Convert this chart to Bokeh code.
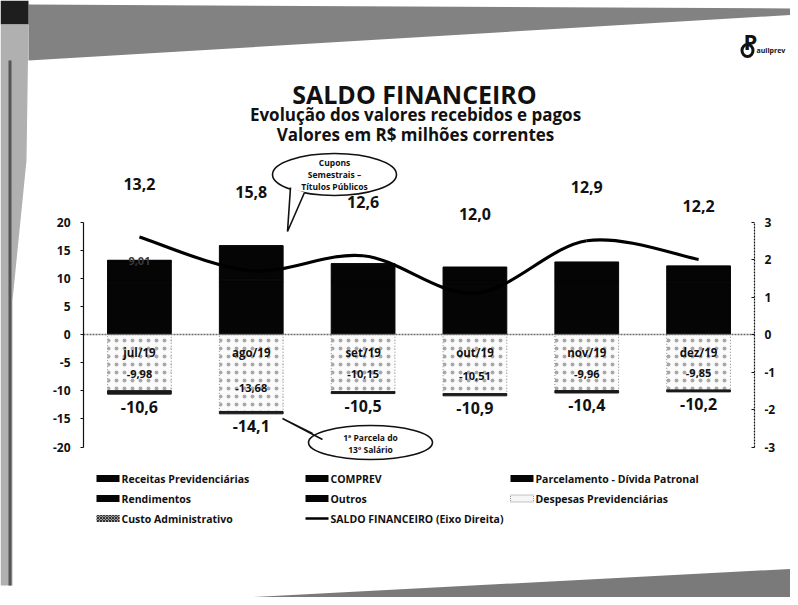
import numpy as np
from bokeh.plotting import figure
from bokeh.models import (Range1d, LinearAxis, FixedTicker, ColumnDataSource,
                          PrintfTickFormatter)
from bokeh.core.properties import value
from bokeh.embed import file_html
from bokeh.resources import INLINE

# ---------------- data ----------------
months = ["jul/19", "ago/19", "set/19", "out/19", "nov/19", "dez/19"]
receitas_prev = [9.01, 9.10, 9.05, 9.00, 9.08, 9.02]
comprev = [0.45, 0.44, 0.46, 0.45, 0.44, 0.45]
parcelamento = [0.30, 0.30, 0.30, 0.30, 0.30, 0.30]
rendimentos = [3.34, 5.86, 2.69, 2.15, 2.98, 2.33]
outros = [0.10, 0.10, 0.10, 0.10, 0.10, 0.10]
despesas_prev = [-9.98, -13.68, -10.15, -10.51, -9.96, -9.85]
custo_adm = [-0.62, -0.42, -0.35, -0.39, -0.44, -0.35]
total_recebido = [13.2, 15.8, 12.6, 12.0, 12.9, 12.2]
total_pago = [-10.6, -14.1, -10.5, -10.9, -10.4, -10.2]
saldo = [2.6, 1.7, 2.1, 1.1, 2.5, 2.0]
left_ticks = [-20, -15, -10, -5, 0, 5, 10, 15, 20]
right_ticks = [-3, -2, -1, 0, 1, 2, 3]

FONT = value("Open Sans")

# canvas-pixel helpers (axes at x 83 and 754, zero at y 334, 5.625 px per unit)
W, H = 790, 597
FL, FR, Z, PU = 83, 754, 334, 5.625


def dx(px):
    return -0.5 + (px - FL) * 6 / (FR - FL)


def dy(py):
    return (Z - py) / PU


RATIO = 3 / 20

p = figure(width=W, height=H, output_backend="svg", toolbar_location=None,
           x_range=Range1d(dx(0), dx(W)), y_range=Range1d(dy(H), dy(0)),
           min_border=0, min_border_left=0, min_border_right=0, min_border_top=0,
           min_border_bottom=0, y_axis_location=None)
p.extra_y_ranges = {"saldo": Range1d(dy(H) * RATIO, dy(0) * RATIO)}
p.xaxis.visible = False
p.xgrid.visible = False
p.ygrid.visible = False
p.outline_line_color = None
p.background_fill_color = "white"
p.border_fill_color = "white"

# ---------------- scanner shadow bands ----------------
bands = [
    ([28, 798, 798, 28], [4, 8, 14, 60], "#828282"),
    ([0, 28, 28, 0], [0, 0, 24, 24], "#1e1e1e"),
    ([0, 28, 26, 12, 12, 0], [24, 24, 160, 300, 585, 585], "#b0b0b0"),
    ([8, 11, 11, 8], [60, 60, 585, 585], "#555555"),
    ([90, 798, 798], [605, 568, 605], "#7a7a7a"),
]
p.patches(xs=[[dx(v) for v in b[0]] for b in bands],
          ys=[[dy(v) for v in b[1]] for b in bands],
          fill_color=[b[2] for b in bands], line_color=None)

# ---------------- bars ----------------
x = list(range(len(months)))
src = ColumnDataSource(dict(x=x, receitas=receitas_prev, comprev=comprev,
                            parcelamento=parcelamento, rendimentos=rendimentos,
                            outros=outros))
p.vbar_stack(["receitas", "comprev", "parcelamento", "rendimentos", "outros"],
             x="x", width=0.57, source=src, color="#050505", line_color="#050505")

desp = np.array(despesas_prev)
cust = np.array(custo_adm)
p.vbar(x=x, top=0, bottom=desp, width=0.57, fill_color="#fbfbfb",
       hatch_pattern=".", hatch_color="#a8a8a8", hatch_scale=8, hatch_weight=1,
       line_color="#8a8a8a", line_dash="1 2", line_width=1)
p.vbar(x=x, top=desp, bottom=desp + cust, width=0.57, fill_color="#1a1a1a",
       line_color="#1a1a1a")

p.segment(x0=[-0.5], y0=[0], x1=[5.5], y1=[0], line_color="#6a6a6a",
          line_width=1.5, line_dash="2 1")

# ---------------- saldo line (smooth) on right axis ----------------
P = np.column_stack([np.array(x, float), np.array(saldo)])
Pe = np.vstack([P[0], P, P[-1]])
c0 = P[:-1] + (Pe[2:-1] - Pe[:-3]) / 6
c1 = P[1:] - (Pe[3:] - Pe[1:-2]) / 6
p.bezier(x0=P[:-1, 0], y0=P[:-1, 1], x1=P[1:, 0], y1=P[1:, 1],
         cx0=c0[:, 0], cy0=c0[:, 1], cx1=c1[:, 0], cy1=c1[:, 1],
         line_color="black", line_width=3.2, y_range_name="saldo")

# ---------------- axes ----------------
ax_l = LinearAxis(ticker=FixedTicker(ticks=left_ticks), bounds=(-20, 20),
                  fixed_location=-0.5, formatter=PrintfTickFormatter(format="%d"))
ax_r = LinearAxis(y_range_name="saldo", ticker=FixedTicker(ticks=right_ticks),
                  bounds=(-3, 3), fixed_location=5.5,
                  formatter=PrintfTickFormatter(format="%d"))
p.add_layout(ax_l, "left")
p.add_layout(ax_r, "right")
for ax in (ax_l, ax_r):
    ax.axis_line_color = "#111111"
    ax.axis_line_width = 1.2
    ax.major_tick_line_color = "#111111"
    ax.minor_tick_line_color = None
    ax.major_label_text_font = "Open Sans"
    ax.major_label_text_font_style = "bold"
    ax.major_label_text_font_size = "12px"
    ax.major_label_text_color = "#111111"
    ax.major_label_standoff = 10
ax_l.major_tick_in = 0
ax_l.major_tick_out = 3
ax_r.major_tick_in = 3
ax_r.major_tick_out = 0
ax_r.axis_line_dash = "2 1"


def fmt(v, d):
    return f"{v:.{d}f}".replace(".", ",")


# ---------------- data labels ----------------
top_y = [max(t, s / RATIO) + 9.5 for t, s in zip(total_recebido, saldo)]
p.text(x=x, y=top_y, text=[fmt(v, 1) for v in total_recebido], text_font=FONT,
       text_font_style="bold", text_font_size="16px", text_align="center",
       text_baseline="middle", text_color="#111111")
p.text(x=x, y=[t - 2.2 for t in total_pago], text=[fmt(v, 1) for v in total_pago],
       text_font=FONT, text_font_style="bold", text_font_size="16px",
       text_align="center", text_baseline="middle", text_color="#111111")
p.text(x=x, y=[0.7 * v for v in despesas_prev], text=[fmt(v, 2) for v in despesas_prev],
       text_font=FONT, text_font_style="bold", text_font_size="11px",
       text_align="center", text_baseline="middle", text_color="#111111")
p.text(x=x, y=[-3.2] * len(x), text=months, text_font=FONT, text_font_style="bold",
       text_font_size="11.5px", text_align="center", text_baseline="middle",
       text_color="#111111")
p.text(x=[0], y=[receitas_prev[0] + 4.0], text=[fmt(receitas_prev[0], 2)], text_font=FONT,
       text_font_style="bold", text_font_size="11px", text_align="center",
       text_baseline="middle", text_color="#3a3a3a")

# ---------------- titles ----------------
p.text(x=[dx(414)], y=[dy(93)], text=["SALDO FINANCEIRO"], text_font=FONT,
       text_font_style="bold", text_font_size="25px", text_align="center",
       text_baseline="middle", text_color="#111111")
p.text(x=[dx(415), dx(415)], y=[dy(114), dy(134)],
       text=["Evolução dos valores recebidos e pagos", "Valores em R$ milhões correntes"],
       text_font=FONT, text_font_style="bold", text_font_size="17px",
       text_align="center", text_baseline="middle", text_color="#111111")


# ---------------- callouts ----------------
def callout(cx, cy, w, h, base, tip, lines, line_y, fs):
    p.ellipse(x=[dx(cx)], y=[dy(cy)], width=w, height=h, width_units="screen",
              height_units="screen", fill_color="white", line_color="#111111",
              line_width=1.6)
    (bx0, by0), (bx1, by1) = base
    tx, ty = tip
    p.patch(x=[dx(bx0), dx(tx), dx(bx1)], y=[dy(by0), dy(ty), dy(by1)],
            fill_color="white", line_color=None)
    p.multi_line(xs=[[dx(bx0), dx(tx), dx(bx1)]], ys=[[dy(by0), dy(ty), dy(by1)]],
                 line_color="#111111", line_width=1.6)
    p.text(x=[dx(cx)] * len(lines), y=[dy(v) for v in line_y], text=lines,
           text_font=FONT, text_font_style="bold", text_font_size=fs,
           text_align="center", text_baseline="middle", text_color="#111111")


callout(334, 174, 124, 42, ((290, 187), (304, 192)), (287, 231),
        ["Cupons", "Semestrais –", "Títulos Públicos"], [162, 174, 186], "8.5px")
callout(370, 442, 124, 34, ((312, 433), (322, 439)), (282, 418),
        ["1ª Parcela do", "13º Salário"], [437, 449], "8.5px")

# ---------------- legend ----------------
legend_items = [
    ("Receitas Previdenciárias", 96, 478, "bar"),
    ("COMPREV", 305, 478, "bar"),
    ("Parcelamento - Dívida Patronal", 510, 478, "bar"),
    ("Rendimentos", 96, 498, "bar"),
    ("Outros", 305, 498, "bar"),
    ("Despesas Previdenciárias", 510, 498, "desp"),
    ("Custo Administrativo", 96, 518, "custo"),
    ("SALDO FINANCEIRO (Eixo Direita)", 305, 518, "line"),
]
for label, lx, ly, kind in legend_items:
    if kind == "bar":
        p.rect(x=[dx(lx + 11.5)], y=[dy(ly)], width=23, height=7, width_units="screen",
               height_units="screen", fill_color="#050505", line_color=None)
    elif kind == "desp":
        p.rect(x=[dx(lx + 11.5)], y=[dy(ly)], width=23, height=7, width_units="screen",
               height_units="screen", fill_color="#f6f6f6", line_color="#8a8a8a",
               line_dash="1 1")
    elif kind == "custo":
        p.rect(x=[dx(lx + 11.5)], y=[dy(ly)], width=23, height=7, width_units="screen",
               height_units="screen", fill_color="#9a9a9a", hatch_pattern="x",
               hatch_color="#333333", hatch_scale=3, line_color=None)
    else:
        p.line(x=[dx(lx), dx(lx + 23)], y=[dy(ly), dy(ly)], line_color="black",
               line_width=2.5)
    p.text(x=[dx(lx + 25)], y=[dy(ly)], text=[label], text_font=FONT,
           text_font_style="bold", text_font_size="10.5px", text_align="left",
           text_baseline="middle", text_color="#111111")

# ---------------- logo ----------------
p.ellipse(x=[dx(747)], y=[dy(50)], width=11, height=12, width_units="screen",
          height_units="screen", fill_color=None, line_color="#111111", line_width=3)
p.text(x=[dx(743)], y=[dy(40)], text=["P"], text_font=FONT, text_font_style="bold",
       text_font_size="22px", text_baseline="middle", text_color="#111111")
p.text(x=[dx(756)], y=[dy(50)], text=["auliprev"], text_font=FONT,
       text_font_style="bold", text_font_size="7px", text_baseline="middle",
       text_color="#111111")

open("out.html", "w").write(file_html(p, INLINE))
